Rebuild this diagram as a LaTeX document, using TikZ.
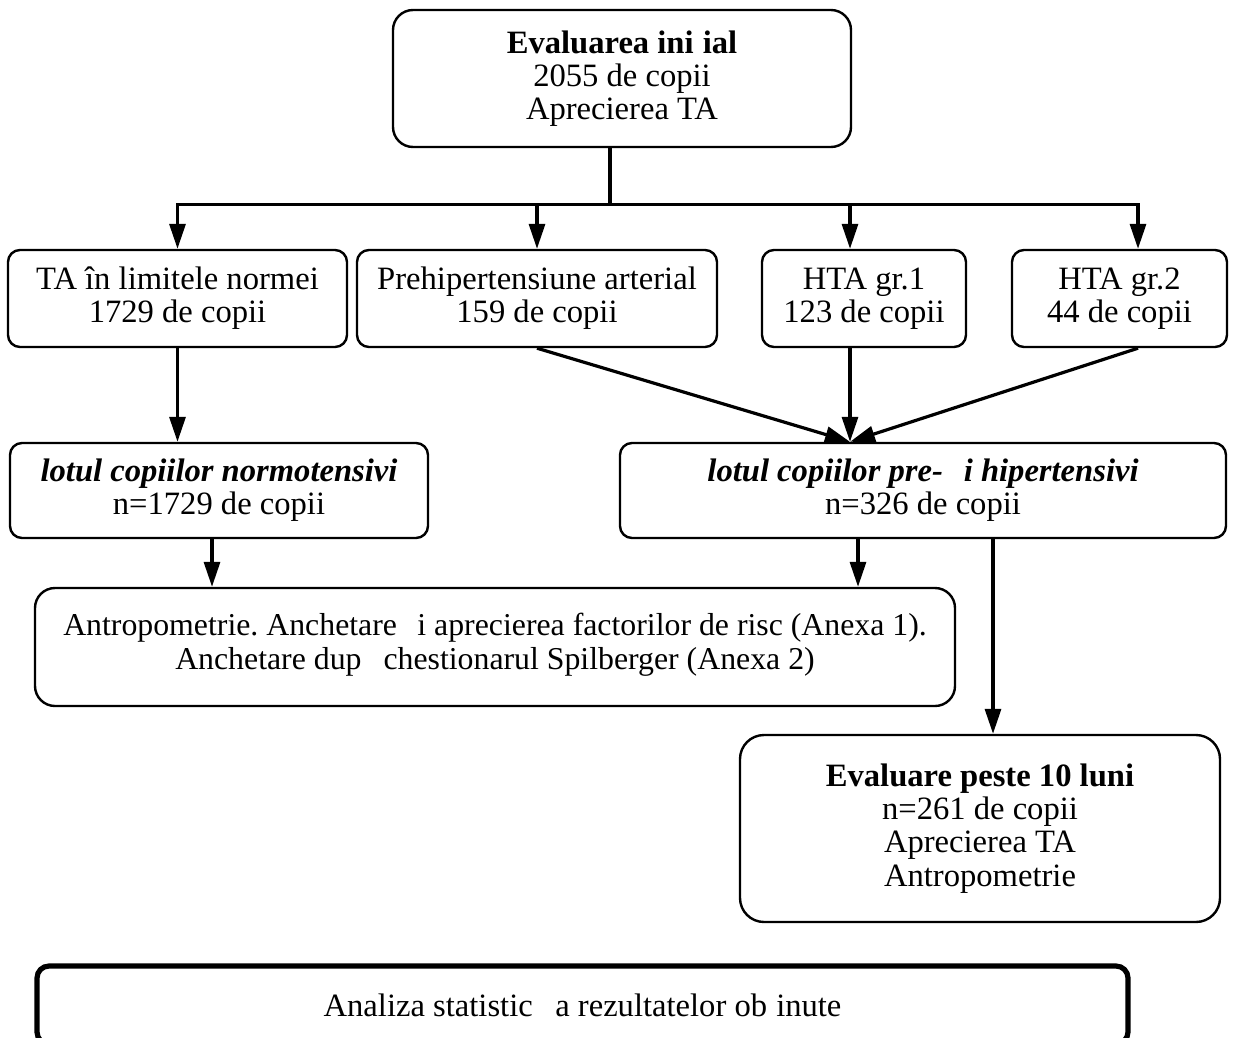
\documentclass[tikz,border=0pt]{standalone}
\usepackage{fontspec}
\setmainfont{Liberation Serif}
\frenchspacing
\usetikzlibrary{arrows.meta,calc}
\begin{document}
\begin{tikzpicture}[x=0.5pt,y=-0.5pt,
 box/.style={draw, line width=1.2pt, rounded corners=6pt, align=center, inner sep=0pt, font=\fontsize{16.3}{16.6}\selectfont},
 arr/.style={line width=1.6pt, -{Triangle[length=12.5pt,width=8pt]}},
 ln/.style={line width=1.6pt}]
\useasboundingbox (0,0) rectangle (1236,1038);
% boxes
\node[box, rounded corners=10pt, minimum width=229pt, minimum height=68.5pt] (top) at (622,78.5)
  {\textbf{Evaluarea ini\hspace{0.28em}ial}\\2055 de copii\\Aprecierea TA};
\node[box, minimum width=169.5pt, minimum height=48.5pt] (b1) at (177.5,298.5)
  {TA în limitele normei\\1729 de copii};
\node[box, minimum width=180pt, minimum height=48.5pt] (b2) at (537,298.5)
  {Prehipertensiune arterial\hspace{0.44em}\\159 de copii};
\node[box, minimum width=102pt, minimum height=48.5pt] (b3) at (864,298.5)
  {HTA gr.1\\123 de copii};
\node[box, minimum width=107.5pt, minimum height=48.5pt] (b4) at (1119.5,298.5)
  {HTA gr.2\\44 de copii};
\node[box, minimum width=209pt, minimum height=47.5pt] (l1) at (219,490.5)
  {\textbf{\textit{lotul copiilor normotensivi}}\\n=1729 de copii};
\node[box, minimum width=303pt, minimum height=47.5pt] (l2) at (923,490.5)
  {\textbf{\textit{lotul copiilor pre- \hspace{0.39em}i hipertensivi}}\\n=326 de copii};
\node[box, rounded corners=10pt, minimum width=460pt, minimum height=59pt, text depth=6pt, font=\fontsize{15.9}{17}\selectfont] (an) at (495,647)
  {Antropometrie. Anchetare \hspace{0.39em}i aprecierea factorilor de risc (Anexa 1).\\Anchetare dup\hspace{0.44em} chestionarul Spilberger (Anexa 2)};
\node[box, rounded corners=12pt, minimum width=240pt, minimum height=93.5pt] (ev) at (980,828.5)
  {\textbf{Evaluare peste 10 luni}\\n=261 de copii\\Aprecierea TA\\Antropometrie};
\node[box, line width=2.6pt, rounded corners=6pt, minimum width=545.5pt, minimum height=39pt] (as) at (582.5,1005)
  {Analiza statistic\hspace{0.44em} a rezultatelor ob\hspace{0.28em}inute};
% connectors
\coordinate (j) at ($(top.south)+(-12,56)$);
\draw[ln] ($(top.south)+(-12,0)$) -- (j);
\draw[arr] (j) -| (b1.north);
\draw[arr] (j) -| (b2.north);
\draw[arr] (j) -| ($(b3.north)+(-14,0)$);
\draw[arr] (j) -| ($(b4.north)+(18.5,0)$);
\draw[arr] (b1.south) -- (b1.south |- l1.north);
\draw[arr] (b2.south) -- ($(l2.north)+(-73,0)$);
\draw[arr] ($(b3.south)+(-14,0)$) -- ($(l2.north)+(-73,0)$);
\draw[arr] ($(b4.south)+(18.5,0)$) -- ($(l2.north)+(-73,0)$);
\draw[arr] ($(l1.south)+(-7,0)$) -- ($(an.north)+(-283,0)$);
\draw[arr] ($(l2.south)+(-65,0)$) -- ($(an.north)+(363,0)$);
\draw[arr] ($(l2.south)+(70,0)$) -- ($(ev.north)+(13,0)$);
\end{tikzpicture}
\end{document}
